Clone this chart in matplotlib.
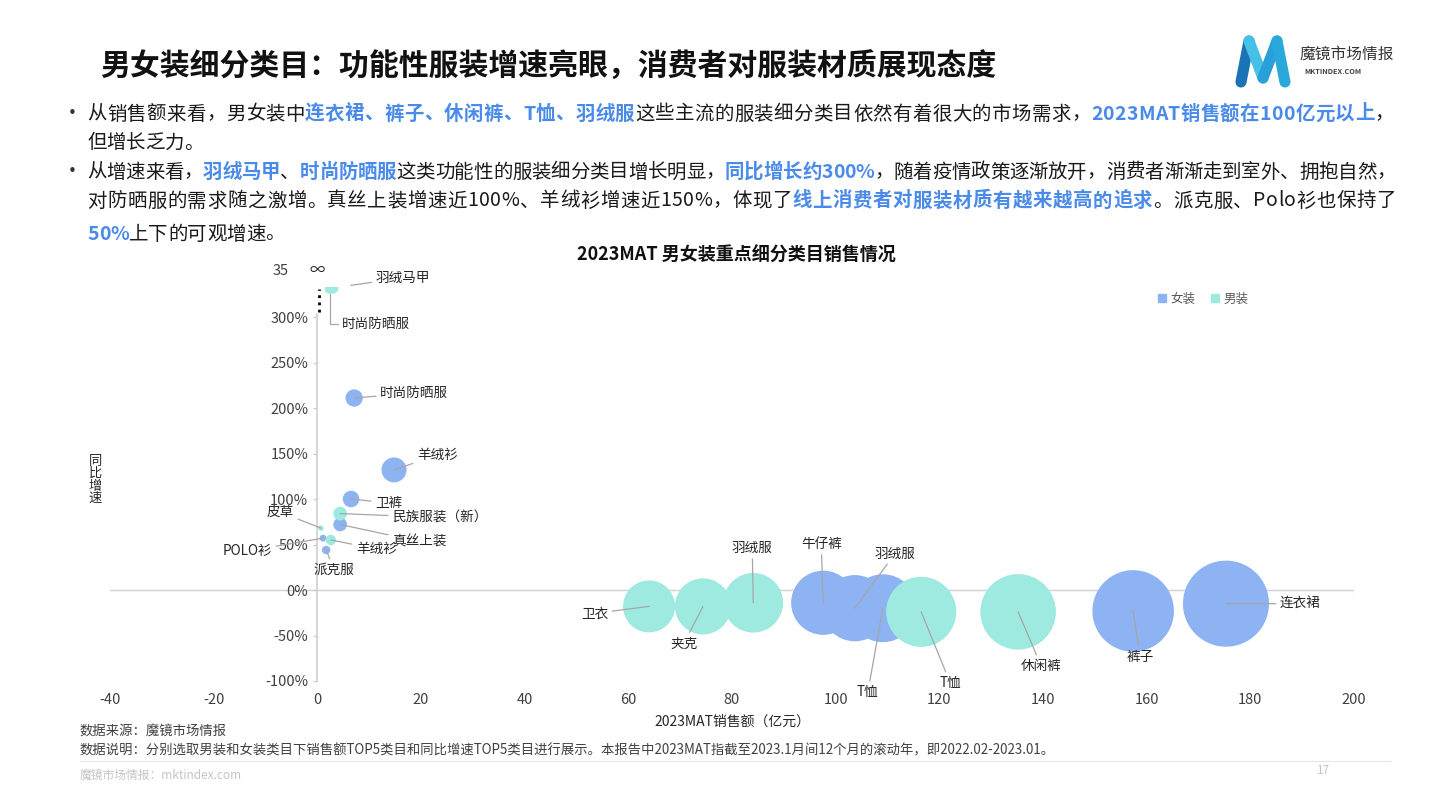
import matplotlib
matplotlib.use("Agg")
import matplotlib.pyplot as plt
from matplotlib.lines import Line2D

plt.rcParams['font.family'] = ['Noto Sans CJK SC', 'DejaVu Sans']

W, H = 1440, 810
C_W = "#8DB3F2"     # 女装
C_M = "#9EEAE1"     # 男装
C_HL = "#4A8BEA"    # highlighted words
C_LEAD = "#a6a6a6"

# ---- data: sales (亿元), yoy growth (%) ----
W_NAMES = ["时尚防晒服", "羊绒衫", "卫裤", "真丝上装", "POLO衫", "派克服",
           "牛仔裤", "羽绒服", "T恤", "裤子", "连衣裙"]
W_SALES = [7.1, 14.8, 6.5, 4.4, 1.1, 1.7, 97.6, 103.7, 109.1, 157.4, 175.3]
W_GROWTH = [211, 132, 100, 72, 57, 44, -14, -20, -20, -23, -15]

M_NAMES = ["羽绒马甲", "时尚防晒服", "民族服装（新）", "皮草", "羊绒衫",
           "卫衣", "夹克", "羽绒服", "T恤", "休闲裤"]
M_SALES = [3.0, 2.4, 4.4, 0.7, 2.6, 64.0, 74.4, 84.1, 116.5, 135.2]
M_GROWTH = [332, 331, 84, 68, 55, -18, -18, -14, -24, -24]

# label offsets in pixels from bubble centre: (dx, dy, ha)
W_LBL = [(26, 5, "left"), (23, 15, "left"), (24, -4, "left"), (52, -17, "left"),
         (-51, -13, "right"), (8, -20, "center"), (-2, 59, "center"),
         (20, 55, "left"), (-15, -84, "center"), (7, -46, "center"), (54, 0, "left")]
M_LBL = [(43, 10, "left"), (12, -35, "left"), (52, -4, "left"), (-27, 16, "right"),
         (25, -9, "left"), (-41, -7, "right"), (-19, -37, "center"), (-1, 55, "center"),
         (29, -71, "center"), (23, -54, "center")]

X_TICKS = [-40, -20, 0, 20, 40, 60, 80, 100, 120, 140, 160, 180, 200]
Y_TICKS = [-100, -50, 0, 50, 100, 150, 200, 250, 300]
SIZE_K = 21.9   # marker area (pt^2) per 亿元


def rich_line(fig, x, y, parts, size, right=None):
    """draw coloured runs one after another; if right is given, spread the
    characters so the line ends there (justified like the slide)"""
    r = fig.canvas.get_renderer()
    chars = [(ch, hl) for s, hl in parts for ch in s]
    arts = []
    for ch, hl in chars:
        t = fig.text(0, 0, ch, fontsize=size, va="center",
                     color=C_HL if hl else "#1a1a1a",
                     weight="bold" if hl else "normal")
        arts.append((t, t.get_window_extent(renderer=r).width))
    total = sum(w for _, w in arts)
    gap = 0 if right is None else (right - x - total) / (len(arts) - 1)
    for t, w in arts:
        t.set_position((x / W, 1 - y / H))
        x += w + gap


fig = plt.figure(figsize=(14.4, 8.1), dpi=100)
fig.patch.set_facecolor("white")

# ---- header ----
fig.text(100 / W, 1 - 67 / H, "男女装细分类目：功能性服装增速亮眼，消费者对服装材质展现态度",
         fontsize=21.5, weight="bold", va="center", color="#111111")
for (x0, y0, x1, y1, c) in [(1241, 82, 1249, 41, "#1b72b5"), (1249, 41, 1263, 78, "#45c0e6"),
                            (1263, 78, 1277, 41, "#2a9fd8"), (1277, 41, 1285, 82, "#2aa8dc")]:
    fig.add_artist(Line2D([x0 / W, x1 / W], [1 - y0 / H, 1 - y1 / H], lw=8,
                          color=c, solid_capstyle="round"))
fig.text(1300 / W, 1 - 54 / H, "魔镜市场情报", fontsize=11.3, va="center", color="#333333")
fig.text(1304 / W, 1 - 71 / H, "MKTINDEX.COM", fontsize=5.3, va="center",
         color="#444444", weight="bold")

# ---- bullet text ----
BS = 14
for yb in (114, 172):
    fig.text(72 / W, 1 - yb / H, "•", fontsize=11, va="center", ha="center",
             color="#333333", family="DejaVu Sans")
rich_line(fig, 87, 114, [("从销售额来看，男女装中", 0), ("连衣裙、裤子、休闲裤、T恤、羽绒服", 1),
                         ("这些主流的服装细分类目依然有着很大的市场需求，", 0),
                         ("2023MAT销售额在100亿元以上", 1), ("，", 0)], BS, right=1394)
rich_line(fig, 87, 143, [("但增长乏力。", 0)], BS)
rich_line(fig, 87, 172, [("从增速来看，", 0), ("羽绒马甲", 1), ("、", 0), ("时尚防晒服", 1),
                         ("这类功能性的服装细分类目增长明显，", 0), ("同比增长约300%", 1),
                         ("，随着疫情政策逐渐放开，消费者渐渐走到室外、拥抱自然，", 0)], BS, right=1396)
rich_line(fig, 87, 201, [("对防晒服的需求随之激增。真丝上装增速近100%、羊绒衫增速近150%，体现了", 0),
                         ("线上消费者对服装材质有越来越高的追求", 1), ("。派克服、Polo衫也保持了", 0)],
          BS, right=1396)
rich_line(fig, 87, 234, [("50%", 1), ("上下的可观增速。", 0)], BS)

# ---- chart ----
ax = fig.add_axes([110 / W, 1 - 681 / H, 1244 / W, 394 / H])
ax.set_xlim(-40, 200)
ax.set_ylim(-100, 333)
ax.set_facecolor("none")

ax.scatter(W_SALES, W_GROWTH, s=[SIZE_K * v for v in W_SALES], color=C_W,
           edgecolors="none", zorder=2)
ax.scatter(M_SALES, M_GROWTH, s=[SIZE_K * v for v in M_SALES], color=C_M,
           edgecolors="none", zorder=2)

for names, xs, ys, lbls in [(W_NAMES, W_SALES, W_GROWTH, W_LBL),
                            (M_NAMES, M_SALES, M_GROWTH, M_LBL)]:
    for n, xv, yv, (dx, dy, ha) in zip(names, xs, ys, lbls):
        top = yv > 300
        cs = "angle,angleA=0,angleB=90,rad=0" if n == "时尚防晒服" and top else "arc3"
        shrink = (4 if n == "时尚防晒服" else 13) if top else 0
        ax.annotate(n, (xv, yv), xytext=(dx, dy), textcoords="offset pixels",
                    ha=ha, va="center", fontsize=9.8, color="#262626", zorder=4,
                    annotation_clip=False,
                    arrowprops=dict(arrowstyle="-", color=C_LEAD, lw=0.9,
                                    shrinkA=1, shrinkB=shrink, connectionstyle=cs))

# axes lines
for s in ("top", "right", "bottom"):
    ax.spines[s].set_visible(False)
ax.spines["left"].set_position(("data", 0))
ax.spines["left"].set_bounds(-100, 303)
ax.spines["left"].set_color("#d0d0d0")
ax.spines["left"].set_linewidth(1.2)
ax.plot([-40, 200], [0, 0], color="#d0d0d0", lw=1, zorder=1)
ax.plot([200, 200], [0, -4], color="#d0d0d0", lw=1, zorder=1)
ax.plot([0.4, 0.4], [305, 331], color="black", lw=2, ls=(0, (1, 1.6)),
        clip_on=False, zorder=3)
ax.text(0, 351, "∞", ha="center", va="center", fontsize=11, color="#262626")
ax.annotate("35", (0, 350.5), xytext=(-29, 0), textcoords="offset pixels",
            ha="right", va="center", fontsize=10.5, color="#404040", annotation_clip=False)

ax.set_yticks(Y_TICKS)
ax.set_yticklabels([f"{v}%" for v in Y_TICKS])
ax.set_xticks(X_TICKS)
ax.set_xticklabels([str(v) for v in X_TICKS])
ax.tick_params(axis="y", length=3, color="#c8c8c8", pad=3.5, labelsize=10.5,
               labelcolor="#404040")
ax.tick_params(axis="x", length=0, pad=9, labelsize=10.5, labelcolor="#404040")
ax.set_xlabel("2023MAT销售额（亿元）", fontsize=10, color="#262626", labelpad=5)
fig.text(95 / W, 1 - 480 / H, "\n".join("同比增速"), fontsize=9.5, ha="center",
         va="center", linespacing=0.95, color="#262626")

fig.text(736 / W, 1 - 255 / H, "2023MAT 男女装重点细分类目销售情况", fontsize=13,
         weight="bold", ha="center", va="center", color="#111111")

hnd = [Line2D([], [], ls="none", marker="s", ms=6, color=C_W),
       Line2D([], [], ls="none", marker="s", ms=6, color=C_M)]
fig.legend(hnd, ["女装", "男装"], loc="center left",
           bbox_to_anchor=(1158 / W, 1 - 299 / H), ncol=2, frameon=False,
           fontsize=9, labelcolor="#595959", handlelength=0.7, handletextpad=0.3,
           columnspacing=1.2, borderaxespad=0, borderpad=0)

# ---- footer ----
fig.text(80 / W, 1 - 732 / H, "数据来源：魔镜市场情报", fontsize=9.6, va="center", color="#404040")
fig.text(80 / W, 1 - 750 / H,
         "数据说明：分别选取男装和女装类目下销售额TOP5类目和同比增速TOP5类目进行展示。"
         "本报告中2023MAT指截至2023.1月间12个月的滚动年，即2022.02-2023.01。",
         fontsize=9.6, va="center", color="#404040")
fig.add_artist(Line2D([80 / W, 1390 / W], [1 - 761 / H] * 2, lw=0.8, color="#e6e6e6"))
fig.text(80 / W, 1 - 775 / H, "魔镜市场情报：mktindex.com", fontsize=8.5, va="center",
         color="#c4c4c4")
fig.text(1323 / W, 1 - 771 / H, "17", fontsize=8.5, ha="center", va="center", color="#c4c4c4")

fig.savefig("out.png", dpi=100)
